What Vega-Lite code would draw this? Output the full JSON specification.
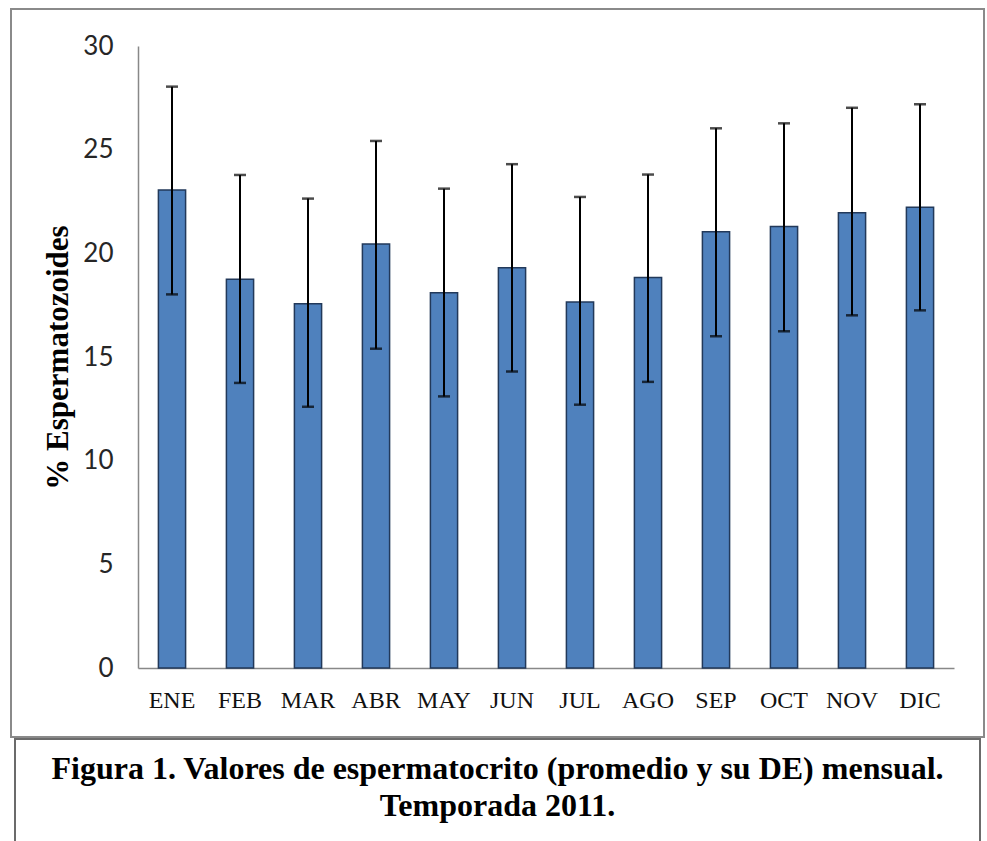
{
  "$schema": "https://vega.github.io/schema/vega-lite/v6.json",
  "padding": {"left": 10, "top": 8, "right": 0, "bottom": 0},
  "autosize": {"type": "pad"},
  "bounds": "flush",
  "center": true,
  "spacing": 2,
  "background": "white",
  "vconcat": [
    {
      "width": 973,
      "height": 728,
      "view": {"stroke": "#8a8a8a", "strokeWidth": 2},
      "data": {
        "values": [
          {"mes": "ENE", "media": 23.05, "lo": 18.02, "hi": 28.04},
          {"mes": "FEB", "media": 18.75, "lo": 13.75, "hi": 23.78},
          {"mes": "MAR", "media": 17.57, "lo": 12.6, "hi": 22.64},
          {"mes": "ABR", "media": 20.45, "lo": 15.4, "hi": 25.42},
          {"mes": "MAY", "media": 18.1, "lo": 13.1, "hi": 23.12},
          {"mes": "JUN", "media": 19.3, "lo": 14.3, "hi": 24.3},
          {"mes": "JUL", "media": 17.65, "lo": 12.7, "hi": 22.72},
          {"mes": "AGO", "media": 18.83, "lo": 13.8, "hi": 23.8},
          {"mes": "SEP", "media": 21.04, "lo": 16.0, "hi": 26.03},
          {"mes": "OCT", "media": 21.29, "lo": 16.24, "hi": 26.27},
          {"mes": "NOV", "media": 21.96, "lo": 17.01, "hi": 27.02},
          {"mes": "DIC", "media": 22.22, "lo": 17.25, "hi": 27.19}
        ]
      },
      "encoding": {
        "x": {
          "field": "mes",
          "type": "nominal",
          "sort": null,
          "title": null,
          "scale": {"type": "band", "range": [127, 943], "paddingInner": 0, "paddingOuter": 0},
          "axis": {
            "orient": "bottom",
            "offset": -69,
            "ticks": false,
            "grid": false,
            "domainColor": "#888888",
            "domainWidth": 1.5,
            "labelAngle": 0,
            "labelFont": "Liberation Serif",
            "labelFontSize": 24,
            "labelColor": "#111111",
            "labelPadding": 20
          }
        }
      },
      "layer": [
        {
          "mark": {"type": "bar", "width": {"band": 0.4}, "color": "#4F81BD", "stroke": "#22395A", "strokeWidth": 1.5},
          "encoding": {
            "y": {
              "field": "media",
              "type": "quantitative",
              "title": "% Espermatozoides",
              "scale": {"domain": [0, 30], "range": [659, 37], "nice": false, "zero": true},
              "axis": {
                "orient": "left",
                "offset": -127,
                "values": [0, 5, 10, 15, 20, 25, 30],
                "ticks": false,
                "grid": false,
                "domainColor": "#888888",
                "domainWidth": 1.5,
                "labelFont": "Lato",
                "labelFontSize": 26,
                "labelColor": "#262626",
                "labelPadding": 25,
                "titleFont": "Liberation Serif",
                "titleFontWeight": "bold",
                "titleFontSize": 31,
                "titleColor": "#000000",
                "titlePadding": 8
              }
            }
          }
        },
        {
          "mark": {"type": "rule", "color": "#000000", "strokeWidth": 2},
          "encoding": {
            "y": {"field": "lo", "type": "quantitative", "title": "% Espermatozoides"},
            "y2": {"field": "hi"}
          }
        },
        {
          "mark": {"type": "tick", "color": "#000000", "thickness": 2.5, "size": 12},
          "encoding": {
            "y": {"field": "lo", "type": "quantitative", "title": "% Espermatozoides"}
          }
        },
        {
          "mark": {"type": "tick", "color": "#000000", "thickness": 2.5, "size": 12},
          "encoding": {
            "y": {"field": "hi", "type": "quantitative", "title": "% Espermatozoides"}
          }
        }
      ]
    },
    {
      "width": 965,
      "height": 110,
      "view": {"stroke": "#6b6b6b", "strokeWidth": 2},
      "data": {
        "values": [
          {"linea": 1, "texto": "Figura 1. Valores de espermatocrito (promedio y su DE) mensual."},
          {"linea": 2, "texto": "Temporada 2011."}
        ]
      },
      "mark": {"type": "text", "font": "Liberation Serif", "fontWeight": "bold", "fontSize": 32, "align": "center", "baseline": "middle", "color": "#000000"},
      "encoding": {
        "y": {"field": "linea", "type": "quantitative", "scale": {"domain": [1, 2], "range": [30, 67]}, "axis": null},
        "text": {"field": "texto"}
      }
    }
  ]
}
